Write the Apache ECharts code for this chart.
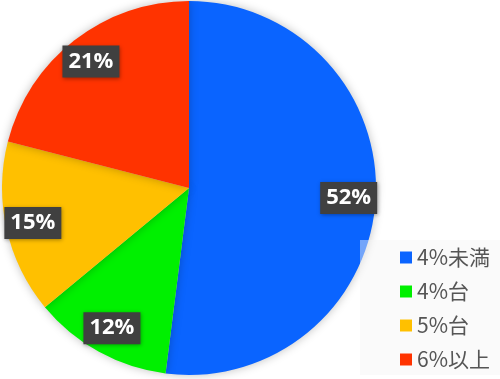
<!DOCTYPE html>
<html><head><meta charset="utf-8">
<script src="https://cdn.jsdelivr.net/npm/echarts@6/dist/echarts.min.js"></script>
<style>html,body{margin:0;padding:0;background:#fff}#c{width:500px;height:379px}</style>
</head><body><div id="c"></div>
<script>
const categories = ['4%未満', '4%台', '5%台', '6%以上'];
const values = [52, 12, 15, 21];
const colors = ['#0a64ff', '#00f000', '#ffc000', '#ff3300'];

const data = categories.map((n, i) => ({ name: n, value: values[i], itemStyle: { color: colors[i] } }));
const labelData = categories.map((n, i) => ({ name: n, value: values[i] }));

const chart = echarts.init(document.getElementById('c'));
chart.setOption({
  animation: false,
  legend: {
    orient: 'vertical',
    left: 360, top: 240,
    padding: [7, 20, 5, 40],
    backgroundColor: 'rgba(245,245,245,0.45)',
    itemWidth: 12, itemHeight: 12, itemGap: 13,
    icon: 'rect',
    data: categories,
    textStyle: { fontFamily: 'Noto Sans CJK JP', fontSize: 21, color: '#555', lineHeight: 20, padding: [0, 0, 0, 0] }
  },
  series: [
    {
      type: 'pie', center: [189, 188], radius: [0, 187], startAngle: 90, clockwise: true,
      label: { show: false }, labelLine: { show: false },
      itemStyle: { shadowBlur: 10, shadowColor: 'rgba(0,0,0,0.25)' },
      data: data, silent: true
    },
    {
      type: 'pie', center: [189, 188], radius: [127, 187], startAngle: 90, clockwise: true,
      itemStyle: { color: 'rgba(0,0,0,0)' }, silent: true,
      labelLine: { show: false },
      label: {
        show: true, position: 'inside', formatter: '{c}%',
        color: '#fff', fontFamily: 'Open Sans', fontWeight: 'bold', fontSize: 22,
        backgroundColor: '#404040', padding: [6, 6, 4, 6],
        shadowBlur: 4, shadowColor: 'rgba(0,0,0,0.35)', shadowOffsetX: 1, shadowOffsetY: 1
      },
      data: labelData
    }
  ]
});
</script></body></html>
